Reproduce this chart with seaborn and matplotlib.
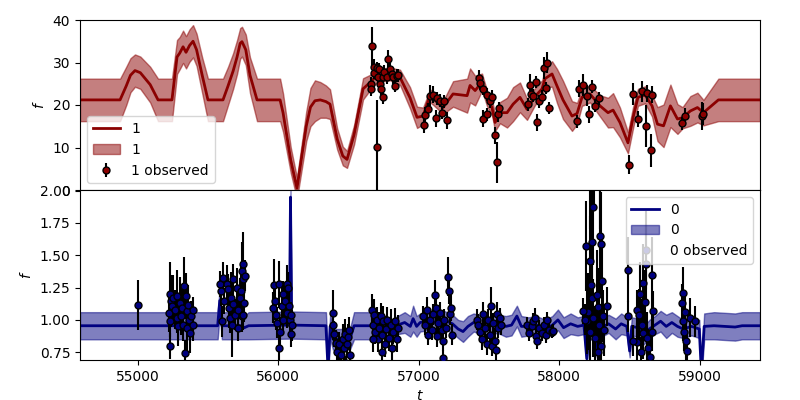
import numpy as np
import matplotlib
matplotlib.use("Agg")
import matplotlib.pyplot as plt
from matplotlib.lines import Line2D
import seaborn as sns

# band "1": GP mean / sigma knots
t_fit1 = [54591, 54876, 54920, 54950, 54982, 55020, 55090, 55146, 55245, 55281, 55300, 55324,
          55345, 55370, 55395, 55420, 55460, 55501, 55608, 55644, 55680, 55708, 55730, 55743,
          55770, 55800, 55850, 56014, 56035, 56090, 56134, 56200, 56230, 56262, 56300, 56340,
          56369, 56420, 56460, 56490, 56540, 56604, 56654, 56703, 56796, 56867, 56938, 56988,
          57031, 57080, 57173, 57244, 57344, 57365, 57401, 57450, 57486, 57521, 57543, 57578,
          57628, 57671, 57720, 57770, 57827, 57877, 57898, 57948, 57983, 58026, 58090, 58126,
          58161, 58218, 58289, 58346, 58382, 58431, 58488, 58524, 58559, 58609, 58659, 58698,
          58741, 58790, 58840, 58876, 58932, 58982, 59025, 59131, 59427]
mean1 = [21.2, 21.2, 24.5, 27.0, 28.1, 27.6, 24.8, 21.2, 21.2, 31.3, 32.2, 33.7,
         32.4, 34.0, 35.0, 33.0, 27.0, 21.2, 21.2, 24.5, 28.0, 31.3, 34.5, 34.9,
         33.0, 27.0, 21.2, 21.2, 18.2, 7.0, 0.4, 15.0, 19.5, 21.0, 21.2, 20.8,
         20.2, 12.0, 8.0, 7.2, 13.0, 23.8, 25.3, 26.9, 27.3, 26.5, 21.7, 17.1,
         17.4, 22.2, 19.4, 22.6, 22.2, 24.6, 23.4, 25.4, 21.5, 19.4, 15.9, 18.2,
         18.2, 20.2, 21.8, 19.0, 22.0, 23.8, 26.2, 27.3, 24.5, 21.2, 17.4, 18.0,
         21.8, 22.6, 19.8, 18.2, 18.8, 15.9, 11.1, 17.0, 21.8, 22.4, 19.8, 15.5,
         15.1, 19.8, 16.7, 17.0, 18.6, 19.4, 18.2, 21.2, 21.2]
sig1 = [5.0, 5.0, 4.5, 4.0, 3.8, 3.8, 4.2, 5.0, 5.0, 4.0, 3.8, 3.8,
        3.8, 3.8, 3.8, 3.8, 4.2, 5.0, 5.0, 4.5, 4.2, 4.0, 3.6, 3.5,
        3.6, 4.2, 5.0, 5.0, 4.5, 3.0, 2.5, 3.5, 4.5, 4.8, 4.2, 3.8,
        3.5, 2.5, 2.2, 2.0, 2.3, 2.5, 1.8, 1.5, 1.5, 1.8, 2.5, 2.5,
        2.0, 1.5, 1.5, 3.0, 4.0, 4.0, 3.5, 2.0, 1.8, 1.8, 2.0, 2.5,
        3.5, 4.0, 3.5, 2.5, 2.0, 2.0, 2.0, 3.0, 4.0, 4.5, 3.5, 2.5,
        2.0, 2.0, 2.5, 3.5, 4.0, 3.5, 2.5, 2.5, 2.0, 2.0, 2.5, 4.0,
        5.0, 5.0, 3.5, 2.5, 3.5, 3.5, 3.0, 5.0, 5.0]

# band "1": observations
obs_t1 = [56670, 56705, 56661, 56661, 56682, 56684, 56701, 56713, 56720, 56725, 56732, 56748,
          56744, 56755, 56772, 56779, 56796, 56808, 56819, 56831, 56843, 56851,
          57040, 57045, 57068, 57080, 57099, 57128, 57123, 57151, 57168, 57182, 57199,
          57431, 57436, 57455, 57459, 57488, 57488, 57507, 57519, 57545, 57555, 57564, 57573,
          57779, 57791, 57799, 57811, 57832, 57843, 57858, 57875, 57891, 57903, 57914, 57929,
          58128, 58142, 58171, 58199, 58213, 58230, 58256, 58284,
          58498, 58526, 58562, 58586, 58614, 58626, 58650, 58657,
          58870, 58894, 59013, 59024]
obs_f1 = [33.8, 10.1, 25.0, 23.7, 28.9, 27.6, 28.7, 26.5, 28.5, 25.0, 23.8, 21.8,
          26.5, 27.8, 26.5, 30.9, 28.5, 27.3, 26.5, 24.5, 26.9, 27.0,
          15.2, 17.6, 19.0, 22.2, 22.4, 21.6, 16.9, 21.0, 18.2, 20.9, 16.4,
          26.3, 25.1, 23.8, 16.8, 22.4, 17.8, 20.9, 22.0, 12.9, 6.5, 17.9, 19.3,
          20.2, 24.7, 22.6, 22.2, 25.4, 15.9, 20.9, 22.0, 28.7, 24.0, 30.0, 19.3,
          16.2, 23.8, 24.7, 22.2, 17.8, 24.3, 19.8, 21.6,
          6.0, 22.6, 16.7, 23.2, 15.1, 22.8, 9.3, 22.4,
          15.7, 17.4, 17.4, 17.9]
obs_e1 = [4.6, 11.0, 1.5, 1.5, 2.0, 1.5, 1.5, 1.5, 1.5, 1.5, 1.5, 1.5,
          2.0, 1.5, 1.5, 2.0, 1.5, 1.5, 1.5, 1.5, 1.5, 1.5,
          1.8, 2.0, 1.5, 2.5, 2.0, 1.5, 2.0, 1.5, 1.5, 1.5, 2.0,
          2.0, 1.5, 1.5, 2.0, 1.5, 1.5, 1.5, 1.5, 2.0, 4.8, 2.0, 1.5,
          1.5, 2.5, 1.5, 1.5, 1.5, 2.0, 1.5, 1.5, 2.5, 1.5, 2.5, 1.5,
          1.5, 2.0, 2.5, 2.5, 2.0, 1.5, 1.5, 1.5,
          2.2, 2.5, 1.8, 2.5, 5.0, 2.0, 3.8, 2.0,
          1.5, 1.8, 3.3, 2.5]

# band "0": GP mean / sigma knots
t_fit0 = [54591, 55570, 55585, 55600, 55740, 55760, 55790, 56080, 56088, 56096, 56340, 56355,
          56370, 56390, 56510, 56540, 56650, 56680, 56720, 56760, 56800, 56850, 56900, 56940,
          56960, 56985, 57010, 57060, 57120, 57180, 57240, 57280, 57315, 57350, 57390, 57450,
          57500, 57560, 57620, 57660, 57698, 57730, 57780, 57840, 57900, 57950, 57990, 58030,
          58080, 58130, 58175, 58195, 58210, 58250, 58285, 58300, 58350, 58400, 58440, 58480,
          58500, 58515, 58560, 58600, 58640, 58680, 58720, 58760, 58800, 58840, 58880, 58940,
          58995, 59010, 59030, 59100, 59250, 59300, 59427]
mean0 = [0.955, 0.955, 1.15, 0.955, 0.955, 0.94, 0.955, 0.96, 1.95, 0.96, 0.955, 0.62,
         0.95, 0.85, 0.85, 0.955, 0.955, 0.95, 0.93, 0.96, 0.93, 0.96, 0.98, 0.95,
         1.01, 0.95, 0.98, 0.99, 0.98, 1.0, 0.97, 0.93, 0.91, 0.95, 0.98, 0.96,
         0.95, 0.97, 0.95, 0.96, 1.03, 0.95, 0.95, 0.96, 0.93, 0.96, 1.0, 0.94,
         0.97, 0.95, 0.96, 0.70, 0.93, 0.90, 0.65, 0.94, 0.97, 0.93, 0.97, 0.95,
         0.76, 0.95, 0.94, 0.88, 0.93, 0.96, 0.99, 0.95, 0.98, 0.95, 0.93, 0.95,
         0.93, 0.60, 0.95, 0.955, 0.945, 0.955, 0.955]
sig0 = [0.105, 0.105, 0.10, 0.105, 0.105, 0.09, 0.105, 0.105, 0.05, 0.105, 0.105, 0.05,
        0.10, 0.08, 0.08, 0.105, 0.105, 0.07, 0.07, 0.07, 0.07, 0.07, 0.08, 0.08,
        0.10, 0.08, 0.07, 0.07, 0.07, 0.07, 0.07, 0.07, 0.08, 0.08, 0.07, 0.07,
        0.07, 0.07, 0.08, 0.08, 0.08, 0.08, 0.07, 0.07, 0.07, 0.07, 0.08, 0.08,
        0.08, 0.07, 0.07, 0.05, 0.07, 0.07, 0.05, 0.07, 0.07, 0.08, 0.08, 0.07,
        0.05, 0.07, 0.07, 0.07, 0.07, 0.07, 0.08, 0.09, 0.08, 0.08, 0.07, 0.07,
        0.07, 0.05, 0.10, 0.105, 0.105, 0.105, 0.105]

# band "0": observations
obs_t0 = [55000,
          55231, 55236, 55243, 55226, 55231, 55231, 55255, 55267, 55279, 55283, 55290, 55302, 55309,
          55314, 55326, 55331, 55338, 55345, 55350, 55354, 55361, 55368, 55373, 55380, 55393, 55397,
          55587, 55592, 55599, 55606, 55615, 55634, 55646, 55653, 55658, 55663, 55670, 55677, 55681,
          55693, 55706, 55713, 55717, 55729, 55736, 55741, 55745, 55752, 55748, 55757, 55765, 55752,
          55971, 56008, 55978, 55966, 55985, 55994, 56004, 56013, 56026, 56033, 56037, 56049, 56061,
          56065, 56072, 56080, 56085, 56090, 56097, 56094,
          56393, 56388, 56398, 56412, 56421, 56435, 56445, 56459, 56469, 56478, 56488, 56499, 56506,
          56511, 56430, 56450, 56480,
          56666, 56673, 56682, 56689, 56701, 56713, 56720, 56730, 56737, 56748, 56760, 56767, 56777,
          56791, 56801, 56808, 56819, 56831, 56843, 56855, 56673, 56737,
          57028, 57045, 57057, 57068, 57080, 57092, 57104, 57116, 57123, 57132, 57139, 57151, 57163,
          57171, 57171, 57180, 57194, 57210, 57218, 57222, 57227, 57235,
          57412, 57424, 57436, 57448, 57459, 57471, 57484, 57495, 57507, 57514, 57519, 57530, 57543,
          57550, 57559, 57566, 57578, 57585,
          57772, 57787, 57804, 57815, 57827, 57834, 57843, 57858, 57875, 57891, 57905, 57914, 57929,
          57946, 57957,
          58190, 58230, 58237, 58218, 58223, 58230, 58206, 58199, 58218, 58242, 58254, 58266, 58277,
          58289, 58296, 58301, 58284, 58296, 58273, 58341, 58166, 58183, 58313, 58318, 58215, 58250,
          58290,
          58491, 58616, 58616, 58593, 58657, 58574, 58609, 58668, 58550, 58569, 58586, 58597, 58621,
          58633, 58645, 58657, 58555, 58526, 58491, 58579,
          58882, 58870, 58877, 58887, 58901, 58910, 58929, 58965, 58894]
obs_f0 = [1.115,
          1.198, 1.146, 1.107, 1.055, 0.99, 0.80, 1.17, 1.08, 1.185, 1.016, 0.95, 1.133, 1.03,
          1.09, 0.96, 1.263, 0.742, 1.185, 1.068, 0.937, 1.117, 1.003, 0.898, 1.03, 1.08, 0.96,
          1.276, 1.224, 0.99, 1.328, 1.146, 1.276, 1.237, 1.09, 1.016, 1.172, 0.96, 1.315, 1.12,
          1.04, 1.25, 1.08, 0.937, 1.172, 1.224, 1.03, 1.38, 1.432, 1.315, 1.133, 1.34, 1.04,
          1.27, 1.276, 1.146, 1.094, 1.04, 0.977, 0.78, 0.904, 1.107, 1.198, 1.003, 1.146, 1.055,
          1.276, 1.25, 1.107, 1.003, 0.89, 0.96, 1.04,
          1.055, 0.964, 0.89, 0.82, 0.755, 0.81, 0.73, 0.85, 0.78, 0.89, 0.81, 0.87, 0.92,
          0.73, 0.66, 0.65, 0.67,
          1.08, 0.964, 1.04, 0.91, 1.003, 0.85, 0.94, 1.03, 0.88, 0.99, 0.81, 0.93, 1.003,
          0.86, 0.964, 0.78, 0.91, 0.99, 0.85, 0.94, 0.85, 0.755,
          1.03, 0.964, 1.08, 0.885, 1.003, 0.925, 1.042, 1.19, 1.09, 0.874, 0.977, 1.055, 0.925,
          0.836, 0.708, 1.003, 0.94, 1.333, 1.224, 1.042, 1.09, 0.885,
          1.003, 0.964, 0.91, 0.85, 1.042, 0.94, 0.81, 1.003, 0.885, 1.107, 0.8, 0.977, 0.836,
          0.77, 1.042, 0.94, 1.016, 0.964,
          0.964, 0.9, 0.95, 0.99, 1.016, 0.874, 0.836, 0.94, 0.9, 0.964, 0.885, 1.003, 0.925,
          0.91, 0.917,
          1.573, 1.6, 1.873, 1.456, 1.273, 1.17, 1.065, 0.99, 0.91, 1.013, 0.857, 1.193, 1.1,
          1.651, 1.586, 1.3, 0.96, 0.8, 0.75, 1.104, 1.07, 1.0, 1.03, 0.92, 2.2, 2.35,
          2.1,
          1.39, 1.54, 1.43, 1.288, 1.344, 1.2, 1.135, 1.07, 1.08, 1.04, 0.963, 0.898, 0.86,
          0.78, 0.716, 0.91, 0.83, 0.84, 1.03, 0.75,
          1.208, 1.13, 0.99, 0.91, 0.84, 0.76, 1.016, 0.99, 1.06]
obs_e0 = [0.19,
          0.25, 0.2, 0.15, 0.15, 0.12, 0.1, 0.18, 0.15, 0.2, 0.12, 0.15, 0.2, 0.15,
          0.15, 0.12, 0.22, 0.1, 0.18, 0.15, 0.2, 0.15, 0.12, 0.15, 0.12, 0.1, 0.12,
          0.1, 0.12, 0.12, 0.12, 0.1, 0.15, 0.12, 0.15, 0.12, 0.2, 0.25, 0.12, 0.15,
          0.12, 0.15, 0.12, 0.1, 0.15, 0.2, 0.12, 0.22, 0.25, 0.15, 0.15, 0.12, 0.12,
          0.2, 0.18, 0.15, 0.12, 0.12, 0.12, 0.1, 0.12, 0.15, 0.1, 0.12, 0.12, 0.12,
          0.15, 0.12, 0.12, 0.1, 0.1, 0.12, 0.1,
          0.18, 0.12, 0.1, 0.1, 0.1, 0.1, 0.08, 0.12, 0.1, 0.12, 0.1, 0.1, 0.1,
          0.08, 0.05, 0.05, 0.05,
          0.12, 0.1, 0.12, 0.1, 0.1, 0.1, 0.12, 0.1, 0.1, 0.12, 0.1, 0.1, 0.1,
          0.1, 0.12, 0.1, 0.1, 0.1, 0.1, 0.1, 0.1, 0.1,
          0.08, 0.08, 0.1, 0.08, 0.08, 0.08, 0.08, 0.12, 0.1, 0.08, 0.08, 0.08, 0.08,
          0.08, 0.06, 0.08, 0.08, 0.15, 0.1, 0.08, 0.1, 0.08,
          0.08, 0.08, 0.08, 0.08, 0.1, 0.08, 0.08, 0.08, 0.08, 0.15, 0.08, 0.08, 0.1,
          0.08, 0.1, 0.08, 0.08, 0.08,
          0.06, 0.06, 0.06, 0.06, 0.08, 0.06, 0.06, 0.06, 0.06, 0.06, 0.06, 0.06, 0.06,
          0.05, 0.05,
          0.35, 0.4, 0.45, 0.35, 0.3, 0.3, 0.3, 0.25, 0.3, 0.3, 0.25, 0.35, 0.3,
          0.4, 0.4, 0.35, 0.3, 0.3, 0.25, 0.15, 0.1, 0.12, 0.2, 0.2, 0.5, 0.5,
          0.4,
          0.25, 0.3, 0.3, 0.3, 0.3, 0.25, 0.25, 0.15, 0.15, 0.2, 0.2, 0.2, 0.2,
          0.15, 0.15, 0.15, 0.15, 0.12, 0.12, 0.12,
          0.2, 0.15, 0.15, 0.15, 0.15, 0.12, 0.15, 0.12, 0.15]

fig, (ax1, ax0) = plt.subplots(2, 1, figsize=(8, 4), dpi=100, sharex=True)
fig.subplots_adjust(left=0.1, right=0.95, top=0.95, bottom=0.1, hspace=0)

def draw_band(ax, t, m, s, ot, of, oe, col, name):
    m = np.array(m)
    s = np.array(s)
    sns.lineplot(x=t, y=m, ax=ax, color=col, lw=2, label=name, estimator=None, sort=False)
    ax.fill_between(t, m - s, m + s, color=col, alpha=0.5, label=name)
    ax.errorbar(ot, of, yerr=oe, fmt="o", mfc=col, mec="black", ecolor="black",
                ms=5, mew=1, elinewidth=1.5, label=name + " observed", zorder=3)
    ax.set_ylabel("$f$")

draw_band(ax1, t_fit1, mean1, sig1, obs_t1, obs_f1, obs_e1, "darkred", "1")
draw_band(ax0, t_fit0, mean0, sig0, obs_t0, obs_f0, obs_e0, "navy", "0")

ax1.set_ylim(0, 40)
ax1.set_yticks([0, 10, 20, 30, 40])
ax1.legend(loc="lower left")

ax0.set_ylim(0.69, 2.005)
ax0.set_yticks([0.75, 1.0, 1.25, 1.5, 1.75, 2.0])
h, l = ax0.get_legend_handles_labels()
h[2] = Line2D([], [], ls="none")
ax0.legend(h, l, loc="upper right")

ax0.set_xlim(54591, 59427)
ax0.set_xlabel("$t$")

fig.savefig("out.png", dpi=100)
